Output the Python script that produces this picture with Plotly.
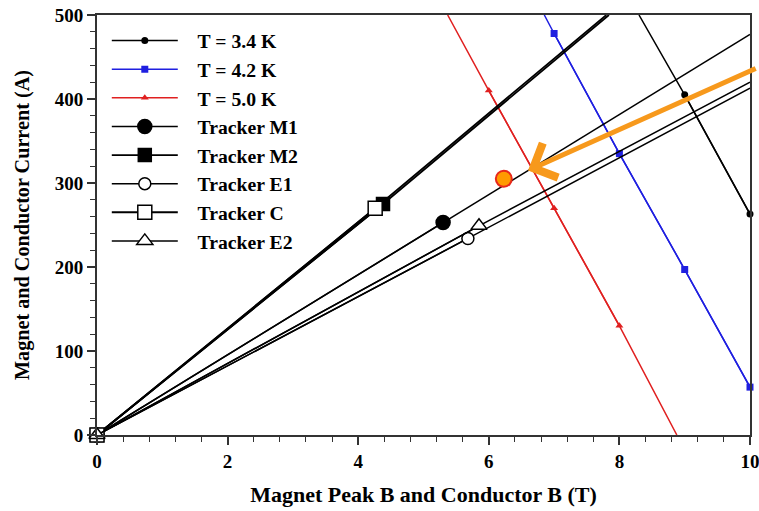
import plotly.graph_objects as go

# Critical-current curves I_c(B): frame crossings plus measured points (integer B)
ic_34_b = [8.30, 9.0, 10.0]
ic_34_i = [500, 405, 263]
ic_42_b = [6.85, 7.0, 8.0, 9.0, 10.0]
ic_42_i = [500, 478, 335, 197, 57]
ic_50_b = [5.37, 6.0, 7.0, 8.0, 8.88]
ic_50_i = [500, 410, 270, 130, 0]

# Magnet load lines: origin, operating point, end at the frame
load_names = ["Tracker M1", "Tracker M2", "Tracker E1", "Tracker C", "Tracker E2"]
load_b = [[0, 5.30, 10.0], [0, 4.38, 7.84], [0, 5.68, 10.0], [0, 4.26, 7.80], [0, 5.85, 10.0]]
load_i = [[0, 253, 477], [0, 275, 500], [0, 234, 413], [0, 270, 500], [0, 249, 420]]

# Highlighted operating point and the arrow pointing at the M1 load line
hl_b, hl_i = 6.23, 305
arrow_tip = (6.60, 315)
arrow_tail = (10.11, 437)

SERIF = "Liberation Serif"
PAD = "\u00a0" * 3  # gap between legend symbol and label

fig = go.Figure()

curves = [
    ("T = 3.4 K", ic_34_b, ic_34_i, "black", "circle", 7),
    ("T = 4.2 K", ic_42_b, ic_42_i, "#1f1fe0", "square", 7),
    ("T = 5.0 K", ic_50_b, ic_50_i, "#e02020", "triangle-up", 7),
]
for name, bs, cur, col, sym, sz in curves:
    # full curve to the frame
    fig.add_trace(go.Scatter(x=bs, y=cur, mode="lines", line=dict(color=col, width=1.5),
                             showlegend=False, hoverinfo="skip"))
    # measured points
    mb = [b for b in bs if float(b).is_integer()]
    mi = [i for b, i in zip(bs, cur) if float(b).is_integer()]
    fig.add_trace(go.Scatter(x=mb, y=mi, mode="lines+markers", name=PAD + name,
                             line=dict(color=col, width=1.5), cliponaxis=False,
                             marker=dict(symbol=sym, size=sz, color=col)))

load_style = {
    "Tracker M1": ("circle", 14, "black", 1.5),
    "Tracker M2": ("square", 13, "black", 1.8),
    "Tracker E1": ("circle", 12, "white", 1.5),
    "Tracker C": ("square", 14, "white", 1.8),
    "Tracker E2": ("triangle-up", 14, "white", 1.5),
}
for name, bs, cur in zip(load_names, load_b, load_i):
    sym, sz, fill, lw = load_style[name]
    fig.add_trace(go.Scatter(x=bs, y=cur, mode="lines", line=dict(color="black", width=lw),
                             showlegend=False, hoverinfo="skip"))
    fig.add_trace(go.Scatter(x=bs[:2], y=cur[:2], mode="lines+markers", name=PAD + name,
                             line=dict(color="black", width=lw), cliponaxis=False,
                             marker=dict(symbol=sym, size=sz, color=fill,
                                         line=dict(color="black", width=1.5))))

fig.add_trace(go.Scatter(x=[hl_b], y=[hl_i], mode="markers", showlegend=False,
                         marker=dict(symbol="circle", size=16, color="#ff9a00",
                                     line=dict(color="#e8281a", width=2))))

fig.add_annotation(x=arrow_tip[0], y=arrow_tip[1], ax=arrow_tail[0], ay=arrow_tail[1],
                   xref="x", yref="y", axref="x", ayref="y", text="", showarrow=True,
                   arrowhead=4, arrowsize=1.45, arrowwidth=5, arrowcolor="#f7991c", standoff=0)

axis_common = dict(
    showline=True, linecolor="#333333", linewidth=2, mirror=True,
    ticks="outside", ticklen=8, tickwidth=1.5, tickcolor="#333333",
    showgrid=False, zeroline=False, automargin=False, ticklabeloverflow="allow",
    tickfont=dict(family=SERIF, size=19, color="black", weight="bold"),
)
fig.update_xaxes(range=[0, 10], dtick=2, tick0=0,
                 minor=dict(dtick=0.4, ticklen=5, tickwidth=1.2, ticks="outside", tickcolor="#333333"),
                 title=dict(text="Magnet Peak B and Conductor B (T)", standoff=16,
                            font=dict(family=SERIF, size=22, color="black", weight="bold")),
                 **axis_common)
fig.update_yaxes(range=[0, 500], dtick=100, tick0=0,
                 minor=dict(dtick=20, ticklen=5, tickwidth=1.2, ticks="outside", tickcolor="#333333"),
                 title=dict(text="Magnet and Conductor Current (A)", standoff=20,
                            font=dict(family=SERIF, size=20.2, color="black", weight="bold")),
                 **axis_common)

fig.update_layout(
    width=759, height=511,
    margin=dict(l=97, r=9, t=15, b=76),
    paper_bgcolor="white", plot_bgcolor="white",
    showlegend=True,
    legend=dict(x=0.015, y=0.985, xanchor="left", yanchor="top",
                bgcolor="rgba(0,0,0,0)", itemwidth=66, itemsizing="trace",
                font=dict(family=SERIF, size=19.7, color="black", weight="bold")),
)

fig.write_html("out.html")
